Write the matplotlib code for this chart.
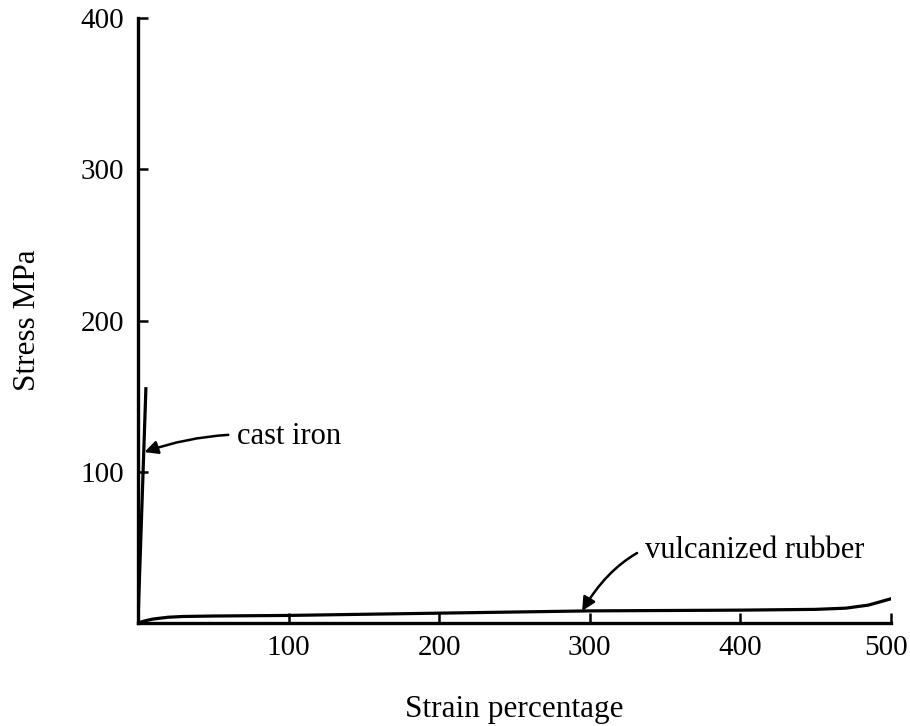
import matplotlib
matplotlib.use("Agg")
import matplotlib.pyplot as plt
import matplotlib.transforms as mtransforms

plt.rcParams['font.family'] = ['Liberation Serif', 'DejaVu Serif']

# Data
iron_strain = [0.0, 5.3]
iron_stress = [0.0, 156.0]

rubber_strain = [0, 5, 10, 20, 30, 50, 100, 200, 300, 400, 450, 470, 485, 500]
rubber_stress = [0, 1.5, 2.6, 3.8, 4.3, 4.6, 5.0, 6.5, 8.0, 8.5, 9.0, 9.8, 11.8, 16.0]

x_ticks = [100, 200, 300, 400, 500]
y_ticks = [100, 200, 300, 400]

fig = plt.figure(figsize=(9.10, 7.26), dpi=100)
ax = fig.add_axes([0.1516, 0.1419, 0.979 - 0.1516, 0.975 - 0.1419])

ax.plot(iron_strain, iron_stress, color='black', lw=2.3, solid_capstyle='butt')
ax.plot(rubber_strain, rubber_stress, color='black', lw=2.3)

ax.set_xlim(0, 500)
ax.set_ylim(0, 400)
ax.set_xticks(x_ticks)
ax.set_yticks(y_ticks)
ax.tick_params(direction='in', length=7, width=1.8, labelsize=21)
ax.tick_params(axis='y', pad=10)
ax.tick_params(axis='x', pad=9)
for s in ['top', 'right']:
    ax.spines[s].set_visible(False)
for s in ['left', 'bottom']:
    ax.spines[s].set_linewidth(2.4)

# nudge the last x tick label so it stays inside the figure
last = ax.get_xticklabels()[-1]
last.set_transform(last.get_transform() +
                   mtransforms.ScaledTranslation(-5 / 100, 0, fig.dpi_scale_trans))

ax.set_xlabel('Strain percentage', fontsize=22.5)
ax.set_ylabel('Stress MPa', fontsize=22.5)
ax.xaxis.set_label_coords(0.5, -0.119)
ax.yaxis.set_label_coords(-0.128, 0.5)

ax.annotate('cast iron', xy=(4.3, 113), xytext=(65.5, 123), fontsize=22,
            va='center', ha='left',
            arrowprops=dict(arrowstyle='-|>', color='black', lw=1.8,
                            mutation_scale=20, shrinkA=4, shrinkB=0,
                            connectionstyle='arc3,rad=0.12'))
ax.annotate('vulcanized rubber', xy=(295, 8), xytext=(336.5, 48), fontsize=22,
            va='center', ha='left',
            arrowprops=dict(arrowstyle='-|>', color='black', lw=1.8,
                            mutation_scale=20, shrinkA=4, shrinkB=0,
                            connectionstyle='arc3,rad=0.42'))

fig.savefig('out.png', dpi=100)
